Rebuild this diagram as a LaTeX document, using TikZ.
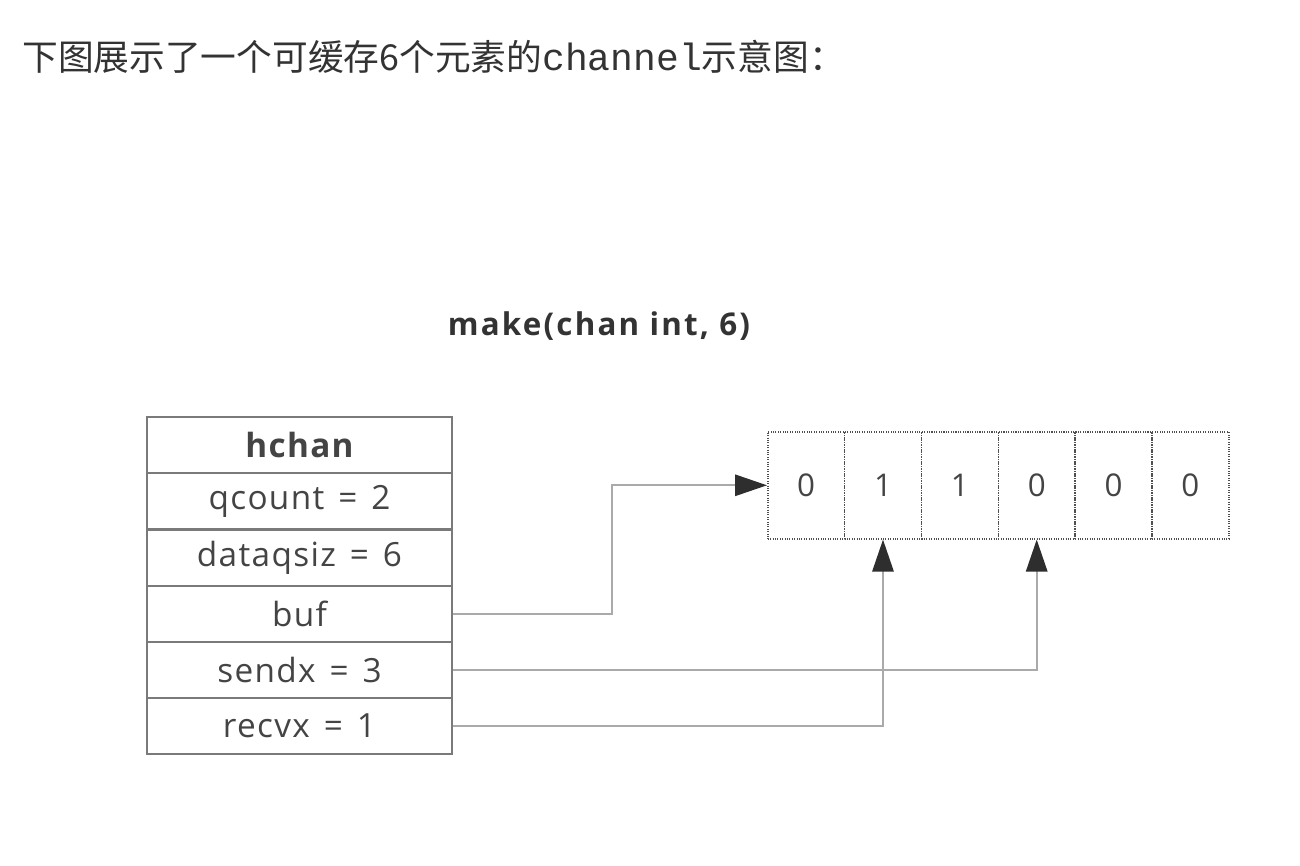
\documentclass[tikz,border=0pt]{standalone}
\usepackage{fontspec}
\setmainfont{Open Sans}
\newfontfamily\cjk{Noto Sans CJK SC}
\newfontfamily\monof{Liberation Mono}
\newfontfamily\spaced[LetterSpace=7]{Open Sans}
\newfontfamily\rowfont[LetterSpace=4,WordSpace=1.4]{Open Sans}
\usetikzlibrary{arrows.meta}
\definecolor{txt}{HTML}{333333}
\definecolor{celltxt}{HTML}{444444}
\definecolor{border}{HTML}{7A7A7A}
\definecolor{conncol}{HTML}{AAAAAA}
\definecolor{tipcol}{HTML}{2E2E2E}
\definecolor{dotcol}{HTML}{505050}
\begin{document}
\begin{tikzpicture}[x=0.75pt,y=-0.75pt,
  rowbox/.style={draw=border, line width=1.5pt, minimum width=228.75pt, minimum height=42pt, inner sep=0pt, anchor=north west, text=celltxt, font=\rowfont\fontsize{25pt}{28pt}\selectfont},
  cellbox/.style={draw=dotcol, line width=1.2pt, dash pattern=on 0.8pt off 1pt, minimum width=57.6pt, minimum height=80.25pt, inner sep=0pt, anchor=north west, text=celltxt, font=\fontsize{23.5pt}{26pt}\selectfont},
  conn/.style={draw=conncol, line width=1.5pt, -{Triangle[length=24pt, width=16pt, color=tipcol]}}
]
\useasboundingbox[fill=white] (0,0) rectangle (1300,866);
\node[anchor=west, text=txt, inner sep=0pt] (title) at (22,57) {\cjk\fontsize{26.8pt}{30pt}\selectfont 下图展示了一个可缓存6个元素的{\monof\fontsize{28.5pt}{30pt}\selectfont channel}示意图：};
\node[text=txt, inner sep=0pt, font=\spaced\bfseries\fontsize{23.5pt}{26pt}\selectfont] (make) at (599,326) {make(chan int, 6)};
\node[rowbox, font=\rowfont\bfseries\fontsize{25pt}{28pt}\selectfont] (r0) at (146,416) {hchan};
\node[rowbox] (r1) at (146,472) {qcount = 2};
\node[rowbox] (r2) at (146,528.5) {dataqsiz = 6};
\node[rowbox] (r3) at (146,585) {buf};
\node[rowbox] (r4) at (146,641) {sendx = 3};
\node[rowbox] (r5) at (146,697) {recvx = 1};
\node[cellbox] (c1) at (767,431) {0};
\node[cellbox] (c2) at (843.8,431) {1};
\node[cellbox] (c3) at (920.7,431) {1};
\node[cellbox] (c4) at (997.5,431) {0};
\node[cellbox] (c5) at (1074.3,431) {0};
\node[cellbox] (c6) at (1151.2,431) {0};
\draw[conn] (r3.east) -- ++(159,0) |- (c1.west);
\draw[conn] (r4.east) -| (c4.south);
\draw[conn] (r5.east) -| (c2.south);
\end{tikzpicture}
\end{document}
